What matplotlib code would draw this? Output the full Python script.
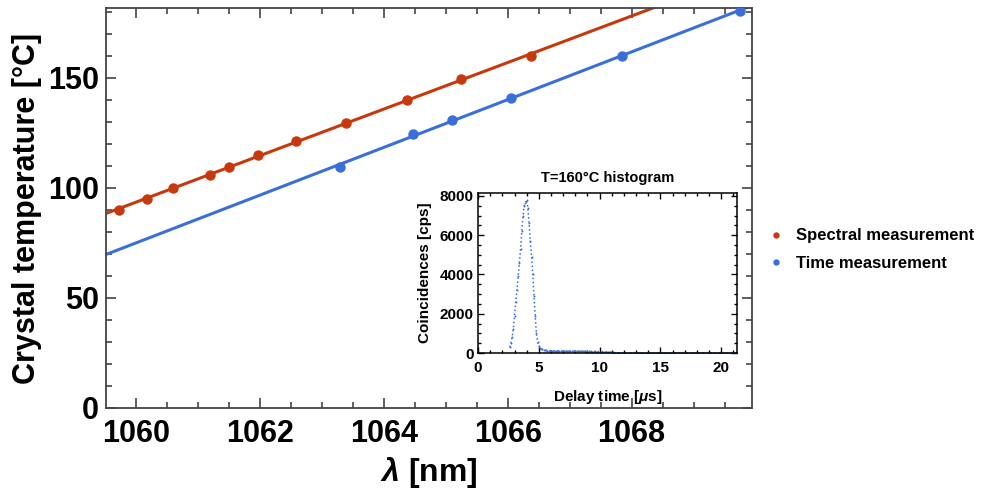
import numpy as np
import matplotlib.pyplot as plt
from matplotlib.ticker import MultipleLocator

plt.rcParams["font.family"] = ["Liberation Sans", "DejaVu Sans"]
plt.rcParams["font.weight"] = "bold"
plt.rcParams["mathtext.fontset"] = "custom"
plt.rcParams["mathtext.it"] = "Liberation Sans:italic:bold"
plt.rcParams["mathtext.bf"] = "Liberation Sans:bold"

# spectral measurement: wavelength [nm] vs crystal temperature [degC]
spec_wl = [1059.73, 1060.18, 1060.60, 1061.20, 1061.50, 1061.97, 1062.58, 1063.40, 1064.37, 1065.25, 1066.38]
spec_temp = [90, 95, 100, 106, 109.5, 115, 121.5, 129.5, 140, 149.5, 160]

# time measurement
time_wl = [1063.29, 1064.48, 1065.10, 1066.06, 1067.85, 1069.74]
time_temp = [109.5, 124.5, 131, 141, 160, 180.5]

# histogram at T=160 degC, 0.1 us bins starting at 2.6 us
hist_start = 2.6
hist_step = 0.1
counts_peak = [300, 500, 800, 1200, 1900, 2600, 3200, 3900, 4600, 5300,
               6200, 7000, 7500, 7650, 7800, 7400, 6600, 5700, 4900, 4000,
               2900, 1900, 1000, 550, 350, 250, 200, 180, 150]
counts_tail = [140, 130, 120, 120, 110, 120, 110, 100, 110, 100,
               100, 110, 100, 100, 90, 100, 100, 90, 100, 90,
               90, 100, 90, 90, 80, 90, 90, 80, 90, 80,
               80, 90, 80, 80, 70, 80, 80, 70, 80, 70,
               70, 80, 70, 60, 70, 60, 60, 70, 60, 50,
               60, 50, 50, 40, 40, 30, 30, 20, 20, 10,
               10, 10, 0, 0, 0, 0]
counts_zero = [0, 0, 0, 0, 0, 0, 0, 0, 0, 0, 0, 0, 0, 0, 0, 0, 0, 0, 0, 0,
               0, 0, 0, 0, 0, 0, 0, 0, 0, 0, 0, 0, 0, 0, 0, 0, 0, 0, 0, 0,
               0, 0, 0, 0, 0, 0, 0, 0, 0, 0, 0, 0, 0, 0, 0, 0, 0, 0, 0, 0,
               0, 0, 0, 0, 0, 0, 0, 0, 0, 0, 0, 0, 0, 0, 0, 0, 0, 0, 0, 0,
               0, 0, 0, 0, 0, 0, 0, 0, 0, 0, 0, 0, 0]

red = "#c8380d"
blue = "#3a6fd8"
frame_col = "#444444"

fig = plt.figure(figsize=(9.82, 4.94), dpi=100)
ax = fig.add_axes([0.1079, 0.1741, 0.6578, 0.8097])

xlim = (1059.52, 1069.94)
xs = np.array(xlim)
for wl, temp, col, lab in [(spec_wl, spec_temp, red, "Spectral measurement"),
                           (time_wl, time_temp, blue, "Time measurement")]:
    k, b = np.polyfit(wl, temp, 1)
    ax.plot(xs, k * xs + b, color=col, lw=2.2, zorder=2)
    ax.plot(wl, temp, "o", color=col, ms=6.5, zorder=3, label=lab)

ax.set_xlim(*xlim)
ax.set_ylim(0, 181.8)
ax.xaxis.set_major_locator(MultipleLocator(2))
ax.xaxis.set_minor_locator(MultipleLocator(0.5))
ax.yaxis.set_major_locator(MultipleLocator(50))
ax.yaxis.set_minor_locator(MultipleLocator(10))
ax.tick_params(which="both", direction="in", top=True, right=True,
               color=frame_col, labelsize=22, width=1.2)
ax.tick_params(which="major", length=7, pad=5)
ax.tick_params(axis="x", which="major", pad=8)
ax.tick_params(which="minor", length=4)
for s in ax.spines.values():
    s.set_color(frame_col)
    s.set_linewidth(1.3)
ax.set_xlabel(r"$\mathit{\lambda}$ [nm]", fontsize=23, fontweight="bold", labelpad=4)
ax.set_ylabel("Crystal temperature [°C]", fontsize=22, fontweight="bold", labelpad=4)

leg = ax.legend(loc="center left", bbox_to_anchor=(1.003, 0.396), frameon=False,
                fontsize=12, markerscale=0.55, handlelength=0.8,
                handletextpad=0.8, labelspacing=0.75)

# inset histogram
n = len(counts_peak) + len(counts_tail) + len(counts_zero)
delay = hist_start + hist_step * np.arange(n)
counts = counts_peak + counts_tail + counts_zero

ins = fig.add_axes([0.4868, 0.2854, 0.2637, 0.3239])
ins.plot(delay, counts, ls=":", lw=1.1, color=blue, marker="o", ms=1.4, mew=0)
ins.set_xlim(0, 21.3)
ins.set_ylim(0, 8150)
ins.xaxis.set_major_locator(MultipleLocator(5))
ins.xaxis.set_minor_locator(MultipleLocator(1))
ins.yaxis.set_major_locator(MultipleLocator(2000))
ins.yaxis.set_minor_locator(MultipleLocator(500))
ins.tick_params(which="both", direction="in", top=True, right=True,
                labelsize=11, width=1)
ins.tick_params(which="major", length=4, pad=3)
ins.tick_params(axis="x", which="major", pad=6)
ins.tick_params(which="minor", length=2)
for s in ins.spines.values():
    s.set_linewidth(1.1)
ins.set_title("T=160°C histogram", fontsize=10.5, fontweight="bold", pad=8)
ins.set_xlabel(r"Delay time [$\mathit{\mu}$s]", fontsize=11, fontweight="bold", labelpad=9)
ins.set_ylabel("Coincidences [cps]", fontsize=11, fontweight="bold", labelpad=6)

fig.savefig("out.png", dpi=100)
